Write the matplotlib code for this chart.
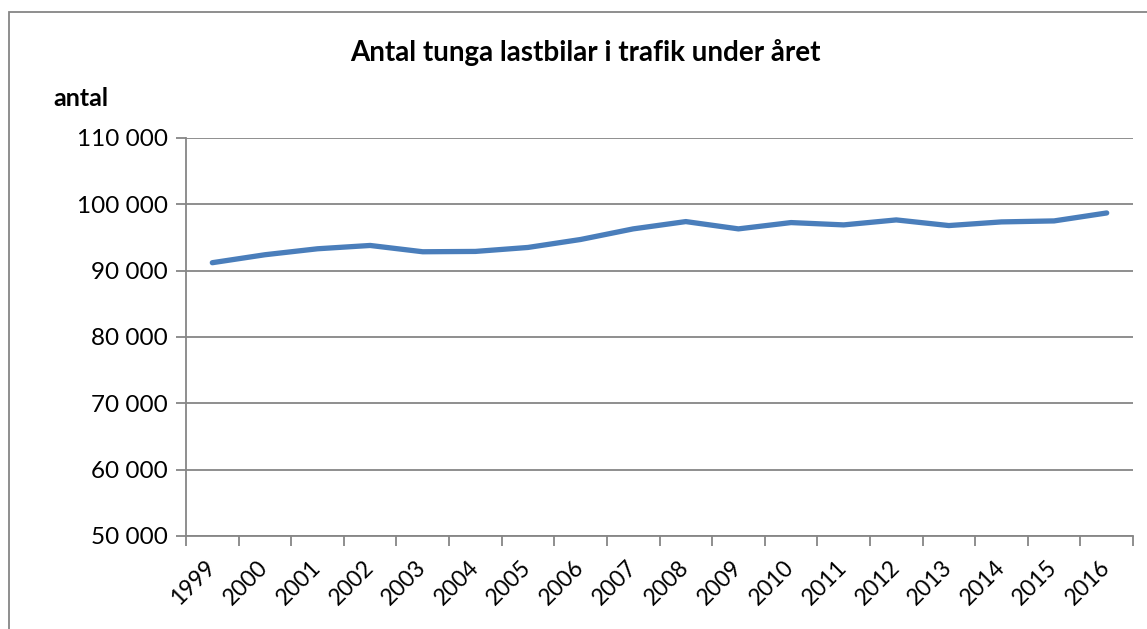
import numpy as np
import matplotlib.pyplot as plt
from matplotlib.patches import Rectangle

years = ['1999', '2000', '2001', '2002', '2003', '2004', '2005', '2006', '2007',
         '2008', '2009', '2010', '2011', '2012', '2013', '2014', '2015', '2016']
antal = [91200, 92400, 93300, 93800, 92850, 92900, 93500, 94700, 96300,
         97400, 96300, 97250, 96900, 97650, 96800, 97350, 97500, 98700]
y_ticks = [50000, 60000, 70000, 80000, 90000, 100000, 110000]

plt.rcParams['font.family'] = ['Lato', 'DejaVu Sans']

fig = plt.figure(figsize=(11.47, 6.29), dpi=100)

# outer chart border (runs off the right and bottom edge like the original)
fig.patches.append(Rectangle((9/1147, -0.1), 1.2, 1 - 12/629 + 0.1, transform=fig.transFigure,
                             fill=False, edgecolor='#868686', linewidth=1.3))

ax = fig.add_axes([186/1147, 93/629, (1133-186)/1147, (536-138)/629])

x = np.arange(len(years))
ax.plot(x, antal, color='#4A7EBB', linewidth=3.8, solid_capstyle='round', solid_joinstyle='round')

ax.set_xlim(-0.5, len(years) - 0.5)
ax.set_ylim(50000, 110000)
ax.set_yticks(y_ticks)
ax.set_yticklabels([f'{v:,}'.replace(',', ' ') for v in y_ticks], fontsize=17.5)
ax.yaxis.grid(True, color='#868686', linewidth=1.3)
ax.set_axisbelow(True)

# category ticks sit between the categories, labels at the centres
ax.set_xticks(np.arange(len(years) + 1) - 0.5)
ax.set_xticklabels([])
ax.set_xticks(x, minor=True)
ax.set_xticklabels(years, minor=True, rotation=45, ha='right', va='center',
                   rotation_mode='anchor', fontsize=16.5)
ax.tick_params(axis='x', which='minor', length=0, pad=20)
ax.tick_params(axis='x', which='major', length=7, color='#868686', width=1.3)
ax.tick_params(axis='y', length=7, color='#868686', width=1.3, pad=6)

for s in ['top', 'right']:
    ax.spines[s].set_visible(False)
for s in ['left', 'bottom']:
    ax.spines[s].set_color('#868686')
    ax.spines[s].set_linewidth(1.3)

fig.text(585/1147, 1 - 52/629, 'Antal tunga lastbilar i trafik under året',
         ha='center', va='center', fontsize=20, fontweight='bold')
fig.text(53/1147, 1 - 98/629, 'antal', ha='left', va='center', fontsize=18, fontweight='bold')

fig.savefig('out.png', dpi=100)
